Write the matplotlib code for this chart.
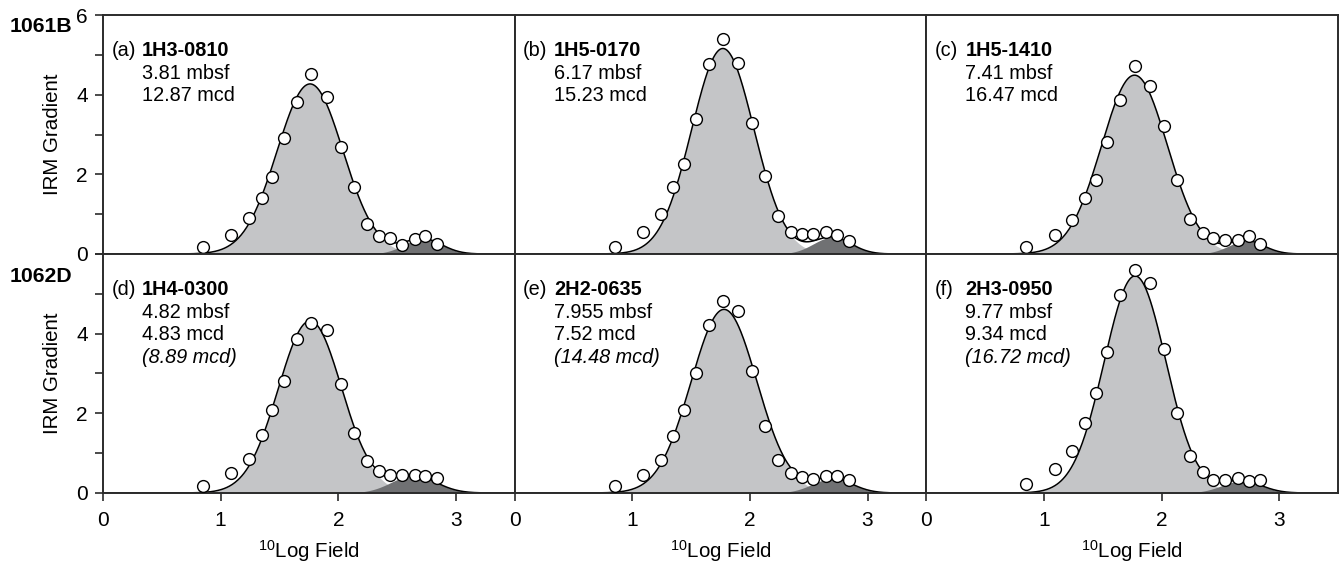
"""IRM gradient curves with two-component fits, sites 1061B and 1062D."""
import matplotlib; matplotlib.use("Agg")
import matplotlib.pyplot as plt
import numpy as np

plt.rcParams["font.family"] = ["Liberation Sans", "DejaVu Sans"]
plt.rcParams["mathtext.default"] = "regular"

# measured log-field steps (same for every sample)
log_field = [0.85, 1.09, 1.24, 1.35, 1.44, 1.54, 1.65, 1.77, 1.90, 2.02,
             2.13, 2.24, 2.35, 2.44, 2.54, 2.65, 2.74, 2.84]

grad_a = [0.17, 0.47, 0.90, 1.41, 1.93, 2.92, 3.82, 4.52, 3.94, 2.69,
          1.67, 0.75, 0.45, 0.39, 0.22, 0.37, 0.44, 0.24]
grad_b = [0.18, 0.54, 1.01, 1.67, 2.25, 3.39, 4.77, 5.41, 4.79, 3.28,
          1.97, 0.95, 0.54, 0.50, 0.49, 0.54, 0.48, 0.33]
grad_c = [0.18, 0.48, 0.85, 1.41, 1.87, 2.80, 3.87, 4.73, 4.22, 3.21,
          1.86, 0.88, 0.53, 0.39, 0.34, 0.34, 0.46, 0.24]
grad_d = [0.18, 0.50, 0.85, 1.46, 2.09, 2.82, 3.86, 4.28, 4.09, 2.73,
          1.50, 0.80, 0.56, 0.46, 0.45, 0.46, 0.42, 0.37]
grad_e = [0.18, 0.46, 0.84, 1.42, 2.09, 3.00, 4.21, 4.82, 4.57, 3.07,
          1.68, 0.82, 0.50, 0.39, 0.36, 0.42, 0.42, 0.33]
grad_f = [0.23, 0.59, 1.05, 1.75, 2.52, 3.53, 4.97, 5.60, 5.28, 3.62,
          2.01, 0.92, 0.52, 0.33, 0.33, 0.38, 0.31, 0.33]
gradients = [grad_a, grad_b, grad_c, grad_d, grad_e, grad_f]

# fitted components: (mean, dispersion, peak)
comp1 = [(1.76, 0.28, 4.27), (1.77, 0.265, 5.16), (1.77, 0.28, 4.49),
         (1.76, 0.27, 4.32), (1.78, 0.28, 4.61), (1.775, 0.262, 5.45)]
comp2 = [(2.72, 0.16, 0.38), (2.70, 0.16, 0.42), (2.72, 0.15, 0.33),
         (2.64, 0.19, 0.44), (2.70, 0.17, 0.36), (2.68, 0.17, 0.30)]

letters = ["a", "b", "c", "d", "e", "f"]
samples = ["1H3-0810", "1H5-0170", "1H5-1410", "1H4-0300", "2H2-0635", "2H3-0950"]
mbsf = ["3.81 mbsf", "6.17 mbsf", "7.41 mbsf", "4.82 mbsf", "7.955 mbsf", "9.77 mbsf"]
mcd = ["12.87 mcd", "15.23 mcd", "16.47 mcd", "4.83 mcd", "7.52 mcd", "9.34 mcd"]
mcd_alt = [None, None, None, "(8.89 mcd)", "(14.48 mcd)", "(16.72 mcd)"]
sites = ["1061B", "1062D"]

LIGHT, DARK, FRAME = "#c4c5c7", "#707173", "#2b2b2b"
FS = 14.3


def gauss(x, mu, s, a):
    return a * np.exp(-(x - mu) ** 2 / (2 * s ** 2))


fig, axes = plt.subplots(2, 3, figsize=(13.42, 5.62), dpi=100)
fig.subplots_adjust(left=0.0768, right=0.997, top=0.9733, bottom=0.1228, wspace=0, hspace=0)

xx = np.linspace(0, 3.5, 600)
for k, ax in enumerate(axes.flat):
    g1 = gauss(xx, *comp1[k]); g2 = gauss(xx, *comp2[k])
    ax.fill_between(xx, 0, g1, color=LIGHT, lw=0)
    ax.fill_between(xx, 0, g2, color=DARK, lw=0)
    ax.plot(xx, g1 + g2, color="black", lw=1.1)
    ax.plot(log_field, gradients[k], "o", ms=8.5, mfc="white", mec="black", mew=1.0, zorder=5)

    ax.set_xlim(0, 3.5); ax.set_ylim(0, 6)
    for sp in ax.spines.values():
        sp.set_color(FRAME); sp.set_linewidth(1.4)
    ax.tick_params(direction="out", length=6, width=1.2, color=FRAME, labelsize=15)
    ax.tick_params(axis="x", pad=7)
    ax.tick_params(axis="y", pad=5)
    ax.set_xticks([0, 1, 2, 3]); ax.set_yticks(range(7))
    ax.set_yticklabels(["0", "", "2", "", "4", "", "6" if k == 0 else ""])
    r, c = divmod(k, 3)
    if c > 0:
        ax.tick_params(axis="y", left=False, labelleft=False)
    if r == 0:
        ax.tick_params(axis="x", bottom=False, labelbottom=False)
    else:
        ax.set_xlabel(r"$^{10}$Log Field", fontsize=FS + 0.5, va="center")
        ax.xaxis.set_label_coords(0.5, -0.245)
    if c == 0:
        ax.set_ylabel("IRM Gradient", fontsize=FS + 0.5, labelpad=10)

    ax.text(0.02, 0.852, f"({letters[k]})", transform=ax.transAxes, fontsize=FS, va="center")
    ax.text(0.095, 0.852, samples[k], transform=ax.transAxes, fontsize=FS,
            va="center", fontweight="bold")
    ax.text(0.095, 0.757, mbsf[k], transform=ax.transAxes, fontsize=FS, va="center")
    ax.text(0.095, 0.662, mcd[k], transform=ax.transAxes, fontsize=FS, va="center")
    if mcd_alt[k]:
        ax.text(0.095, 0.567, mcd_alt[k], transform=ax.transAxes, fontsize=FS,
                va="center", style="italic")

fig.text(10 / 1342, 1 - 27 / 562, sites[0], fontsize=FS + 1, fontweight="bold", va="center")
fig.text(10 / 1342, 1 - 277 / 562, sites[1], fontsize=FS + 1, fontweight="bold", va="center")

fig.savefig("out.png", dpi=100)
